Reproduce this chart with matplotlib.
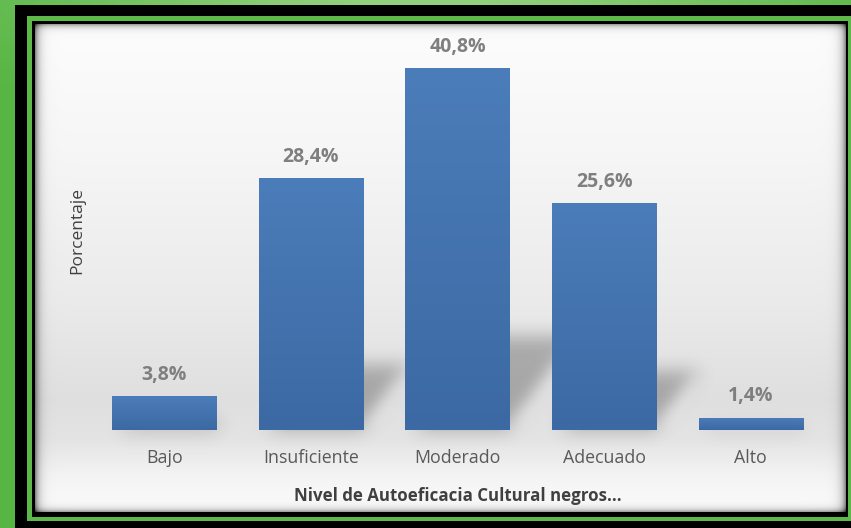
import numpy as np
import matplotlib
matplotlib.use("Agg")
import matplotlib.pyplot as plt
from matplotlib.patches import Rectangle, Polygon
from matplotlib.colors import LinearSegmentedColormap

# Distribution of cultural self-efficacy levels
categories = ["Bajo", "Insuficiente", "Moderado", "Adecuado", "Alto"]
percentages = [3.8, 28.4, 40.8, 25.6, 1.4]
value_labels = ["3,8%", "28,4%", "40,8%", "25,6%", "1,4%"]
x_title = "Nivel de Autoeficacia Cultural negros..."
y_title = "Porcentaje"

FONT = ["Open Sans", "DejaVu Sans"]
W, H = 851, 528

fig = plt.figure(figsize=(W / 100, H / 100), dpi=100)

# ---- decorative frame (pixel space) ----
bg = fig.add_axes([0, 0, 1, 1])
bg.set_xlim(0, W)
bg.set_ylim(H, 0)
bg.axis("off")

# green backdrop, lighter toward the top centre
yy, xx = np.mgrid[0:H, 0:W]
glow = np.exp(-(((xx - 420) / 350.0) ** 2) - ((yy / 60.0) ** 2))
dark = np.array([0x56, 0xb5, 0x43]) / 255
light = np.array([0x92, 0xd2, 0x7e]) / 255
green_img = dark[None, None, :] * (1 - glow[..., None]) + light[None, None, :] * glow[..., None]
bg.imshow(green_img, extent=(0, W, H, 0), zorder=0, interpolation="bilinear")

bg.add_patch(Rectangle((15, 5), W - 15, H - 5, facecolor="black", edgecolor="none", zorder=1))
bg.add_patch(Rectangle((27, 16), W - 27, 521 - 16, facecolor="#5cb94a", edgecolor="none", zorder=2))
bg.add_patch(Rectangle((32, 21), 848 - 32, 517 - 21, facecolor="black", edgecolor="none", zorder=3))

# chart panel: soft grey band behind the bar bases, inner shadow on the edges
px0, py0, px1, py1 = 35, 24, 846, 512
ph, pw = py1 - py0, px1 - px0
ys = np.arange(ph) + py0
prof_y = [24, 150, 300, 400, 440, 475, 512]
prof_v = [0.99, 0.965, 0.92, 0.875, 0.895, 0.955, 0.99]
col = np.interp(ys, prof_y, prof_v)
panel = np.repeat(col[:, None], pw, axis=1)
ex = np.arange(pw)
ey = np.arange(ph)
left = np.exp(-ex / 4.0) * 0.45
right = np.exp(-(pw - 1 - ex) / 4.0) * 0.45
top = np.exp(-ey / 3.0) * 0.35
bottom = np.exp(-(ph - 1 - ey) / 3.0) * 0.35
edge = np.clip(left[None, :] + right[None, :] + top[:, None] + bottom[:, None], 0, 0.8)
panel = panel * (1 - edge)
bg.imshow(np.dstack([panel] * 3), extent=(px0, px1, py1, py0), zorder=4, interpolation="bilinear")


# ---- blur filter for cast shadows ----
def gaussian_blur(sigma):
    r = int(3 * sigma)
    k = np.exp(-0.5 * (np.arange(-r, r + 1) / sigma) ** 2)
    k /= k.sum()

    def _filter(im, dpi):
        a = np.pad(im, ((r, r), (r, r), (0, 0)))
        tmp = np.zeros_like(a)
        for i, w in enumerate(k):
            tmp += w * np.roll(a, i - r, axis=0)
        out = np.zeros_like(a)
        for i, w in enumerate(k):
            out += w * np.roll(tmp, i - r, axis=1)
        return out, -r, -r

    return _filter


# ---- bar chart ----
ax = fig.add_axes([91 / W, (H - 430) / H, (824 - 91) / W, (430 - 30.9) / H])
ax.patch.set_alpha(0)
ax.set_xlim(-0.5, len(categories) - 0.5)
ax.set_ylim(0, 45)
for s in ax.spines.values():
    s.set_visible(False)
ax.set_yticks([])
ax.tick_params(axis="x", length=0, pad=14)

xs = np.arange(len(categories))
bar_w = 0.71

# perspective shadows cast up and to the right of each bar
shadow_scale = 0.26
skew = 0.012
for x, v in zip(xs, percentages):
    sh = v * shadow_scale
    dx = skew * v
    poly = Polygon(
        [(x - bar_w / 2 + 0.05, 0), (x + bar_w / 2, 0),
         (x + bar_w / 2 + dx, sh), (x - bar_w / 2 + dx + 0.05, sh)],
        closed=True, facecolor="black", edgecolor="none", alpha=0.26, zorder=1,
    )
    poly.set_agg_filter(gaussian_blur(9))
    ax.add_patch(poly)

bars = ax.bar(xs, percentages, width=bar_w, color="#4676b2", zorder=2)

# vertical gradient fill on each bar
bar_cmap = LinearSegmentedColormap.from_list("barfill", ["#3c69a3", "#4b7dba"])
grad = np.linspace(0, 1, 256)[:, None]
for b in bars:
    x0, y0 = b.get_x(), b.get_y()
    im = ax.imshow(grad, cmap=bar_cmap, aspect="auto", origin="lower",
                   extent=(x0, x0 + b.get_width(), y0, y0 + b.get_height()),
                   zorder=3, interpolation="bilinear")
    im.set_clip_path(b)

for x, v, lab in zip(xs, percentages, value_labels):
    ax.annotate(lab, (x, v), xytext=(0, 8), textcoords="offset points",
                ha="center", va="bottom", fontsize=14, fontweight="bold",
                color="#7f7f7f", family=FONT, zorder=5)

ax.set_xticks(xs)
ax.set_xticklabels(categories, fontsize=12.8, color="#595959", family=FONT)
ax.set_xlabel(x_title, fontsize=12.2, fontweight="bold", color="#404040",
              family=FONT, labelpad=14)
ax.set_ylabel(y_title, fontsize=12.5, color="#404040", family=FONT,
              va="center")
ax.yaxis.set_label_coords(-0.019, 0.50)

fig.savefig("out.png", dpi=100)
